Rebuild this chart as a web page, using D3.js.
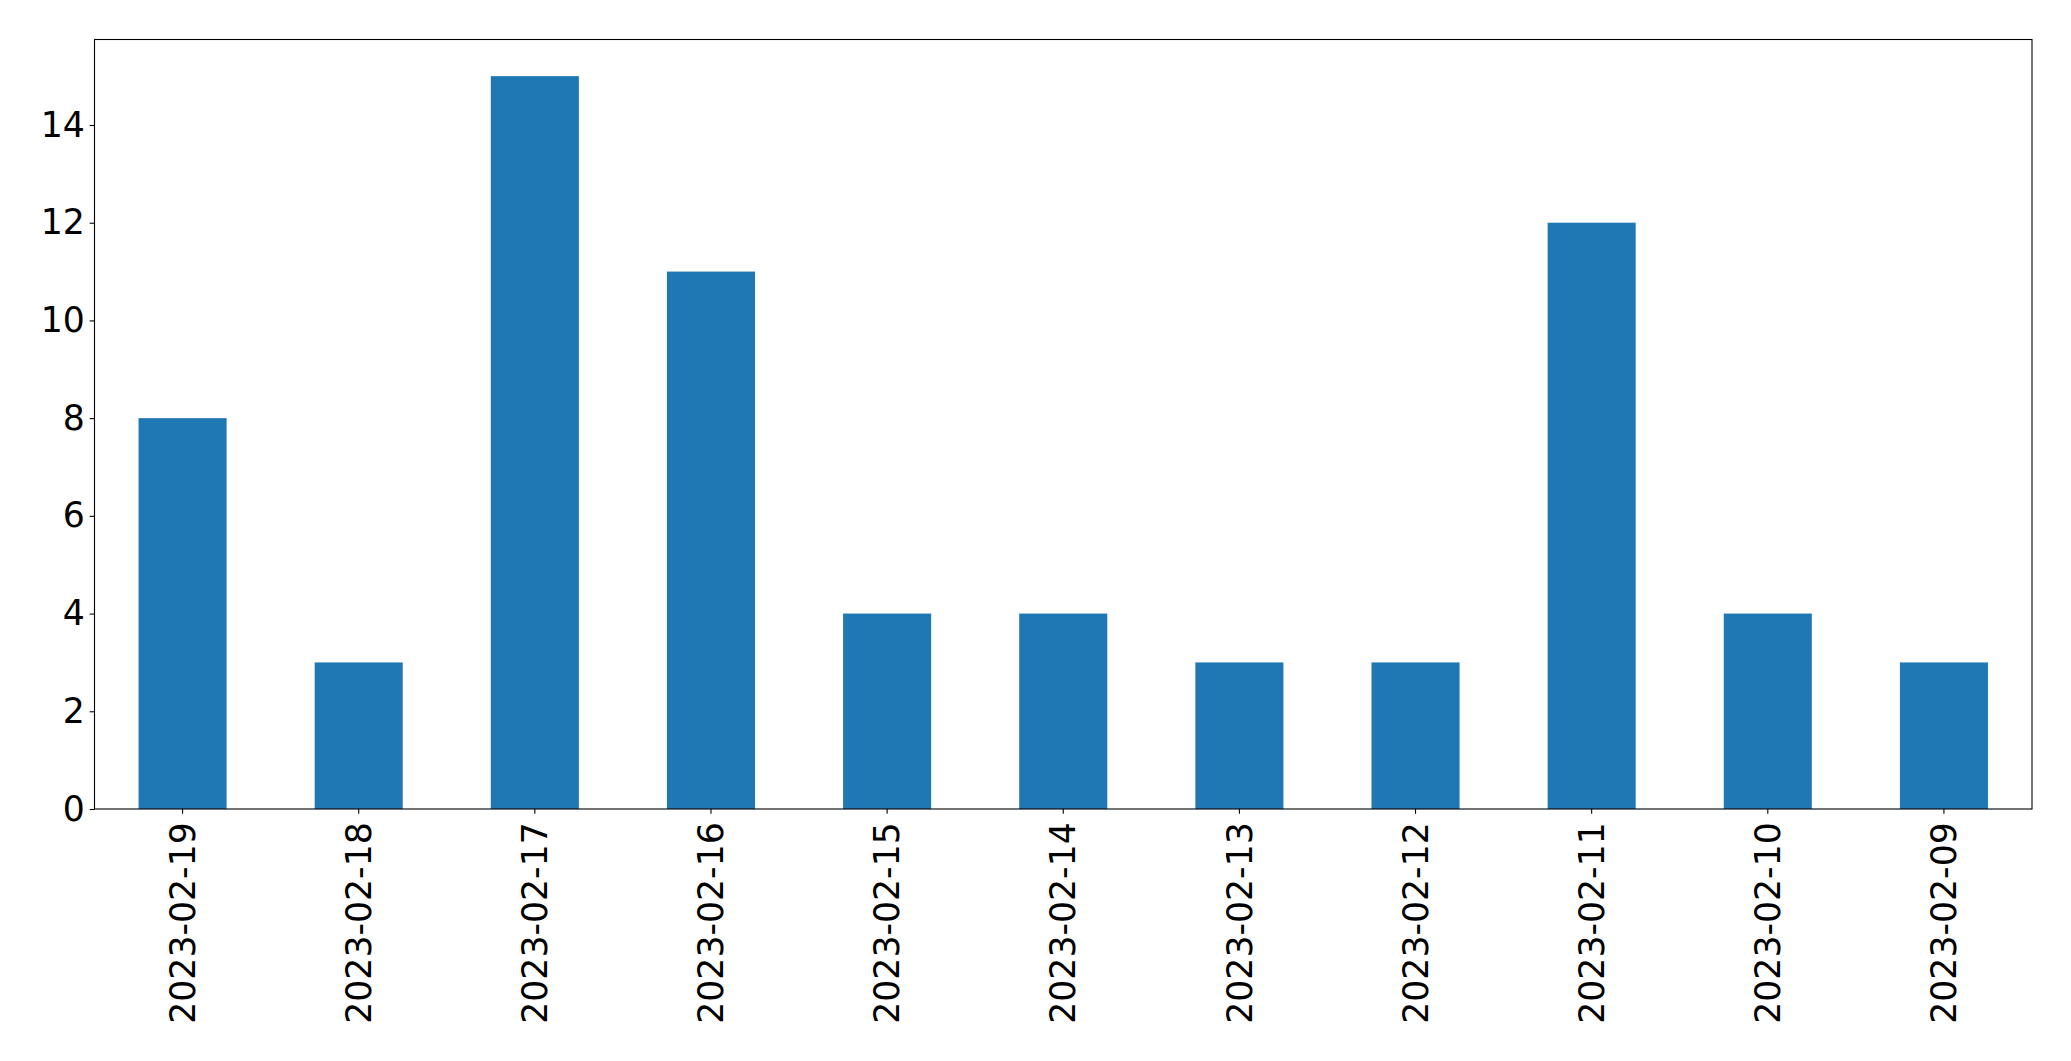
<!DOCTYPE html>
<html>
<head>
<meta charset="utf-8">
<script src="https://cdn.jsdelivr.net/npm/d3@7"></script>
<style>
  html, body { margin: 0; padding: 0; background: #fff; }
  svg { display: block; }
</style>
</head>
<body>
<script>
const categories = ["2023-02-19","2023-02-18","2023-02-17","2023-02-16","2023-02-15","2023-02-14","2023-02-13","2023-02-12","2023-02-11","2023-02-10","2023-02-09"];
const values = [8, 3, 15, 11, 4, 4, 3, 3, 12, 4, 3];
const yTicks = [0, 2, 4, 6, 8, 10, 12, 14];

const W = 2071, H = 1061;
const mLeft = 94.5, mRight = 2032, mTop = 39.5, mBottom = 809;
const fontSize = 34.7;
const tickLen = 4.86, tickPad = 4.86;

const svg = d3.select("body").append("svg").attr("width", W).attr("height", H);

const x = d3.scaleBand().domain(categories).range([mLeft, mRight]).paddingInner(0.5).paddingOuter(0.25);
const y = d3.scaleLinear().domain([0, d3.max(values) * 1.05]).range([mBottom, mTop]);

svg.append("g").selectAll("rect").data(values).join("rect")
  .attr("x", (d, i) => x(categories[i]))
  .attr("width", x.bandwidth())
  .attr("y", d => y(d))
  .attr("height", d => y(0) - y(d))
  .attr("fill", "#1f77b4");

// frame
svg.append("rect").attr("x", mLeft).attr("y", mTop).attr("width", mRight - mLeft).attr("height", mBottom - mTop)
  .attr("fill", "none").attr("stroke", "#000").attr("stroke-width", 1.1);

// y axis
const yAxis = d3.axisLeft(y).tickValues(yTicks).tickSize(tickLen).tickPadding(tickPad).tickFormat(d3.format("d"));
const gy = svg.append("g").attr("transform", `translate(${mLeft},0)`).call(yAxis);
gy.select(".domain").remove();
gy.selectAll(".tick line").attr("stroke", "#000").attr("stroke-width", 1.1);
gy.selectAll(".tick text").attr("font-family", "DejaVu Sans").attr("font-size", fontSize).attr("fill", "#000");

// x axis
const xAxis = d3.axisBottom(x).tickSize(tickLen).tickPadding(tickPad);
const gx = svg.append("g").attr("transform", `translate(0,${mBottom})`).call(xAxis);
gx.select(".domain").remove();
gx.selectAll(".tick line").attr("stroke", "#000").attr("stroke-width", 1.1);
gx.selectAll(".tick text")
  .attr("font-family", "DejaVu Sans").attr("font-size", fontSize).attr("fill", "#000")
  .attr("transform", `translate(0,${tickLen + tickPad + 3.5}) rotate(-90)`)
  .attr("x", 0).attr("y", 0).attr("dy", "0.35em")
  .attr("text-anchor", "end");
</script>
</body>
</html>
